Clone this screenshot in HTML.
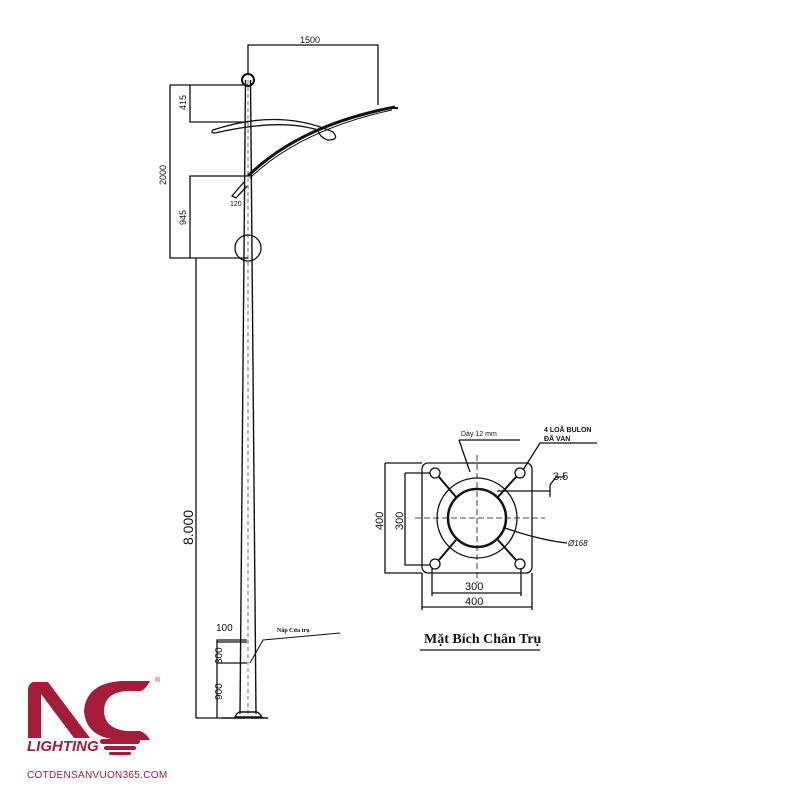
<!DOCTYPE html>
<html><head><meta charset="utf-8"><style>body{margin:0;background:#fff}svg{display:block}</style></head><body>
<svg width="800" height="800" viewBox="0 0 800 800" xmlns="http://www.w3.org/2000/svg" font-family="Liberation Sans, sans-serif">
<rect width="800" height="800" fill="#fff"/>
<g stroke="#111" fill="none" stroke-width="1.3">
<path d="M245.5 80 L240 714 M250.5 80 L256 714" stroke-width="1.4"/>
<path d="M248 80 L248 714" stroke-width="0.6" stroke-dasharray="4 3"/>
<path d="M235 717 Q238 711 241 712 L255 712 Q258 711 262 717 Z" stroke-width="1.4"/>
<line x1="222" y1="718" x2="268" y2="718" stroke-width="1.5"/>
<circle cx="248" cy="80" r="6" stroke-width="2"/>
<circle cx="248" cy="248" r="13"/>
<path d="M248 176 Q300 125 395 107" stroke-width="3"/>
<path d="M250 178 Q300 130 392 110" stroke-width="1"/>
<path d="M388 108 L398 108" stroke-width="2"/>
<path d="M213 130 Q280 108 333 132 Q340 140 328 140 Q320 138 318 130 Q280 118 215 133 Q210 133 213 130 Z"/>
<path d="M244 182 L232 196 L236 198 L247 186" />
<path d="M248 75 L248 45 L378 45 L378 105"/>
<path d="M248 85 L170 85 L170 258 L248 258"/>
<path d="M248 122 L190 122 L190 85"/>
<path d="M248 176 L190 176 L190 258"/>
<path d="M196 258 L196 718 L222 718"/>
<path d="M217 718 L217 640 L247 640"/>
<path d="M217 663 L247 663 M217 642 L247 642"/>
<path d="M250 663 L263 640 L340 633" stroke-width="1"/>
<rect x="422" y="463" width="110" height="110" rx="6"/>
<circle cx="477" cy="518" r="40"/>
<circle cx="477" cy="518" r="29" stroke-width="2.5"/>
<path d="M477 455 L477 583 M415 518 L545 518" stroke-dasharray="6 3" stroke-width="0.8"/>
<circle cx="435" cy="473" r="5"/><circle cx="520" cy="473" r="5"/>
<circle cx="435" cy="564" r="5"/><circle cx="520" cy="564" r="5"/>
<path d="M439 477 L456 497 M516 477 L498 497 M439 560 L456 540 M516 560 L498 540" stroke-width="2"/>
<path d="M385 463 L422 463 M385 463 L385 573 L422 573"/>
<path d="M405 473 L430 473 M405 473 L405 565 L430 565"/>
<path d="M432 568 L432 596 M521 568 L521 596 M432 593 L521 593"/>
<path d="M422 573 L422 610 M532 573 L532 610 M422 607 L532 607"/>
<path d="M459 440 L470 472 M459 440 L520 440"/>
<path d="M523 470 L540 443 L597 443"/>
<path d="M497 491 L550 491 M550 485 L550 497 M550 485 L556 477 L565 477"/>
<path d="M505 528 Q540 540 567 543"/>
<line x1="420" y1="650" x2="540" y2="650" stroke-width="1.2"/>
</g>
<g fill="#111" font-size="9">
<text x="300" y="43">1500</text>
<text transform="translate(186 110) rotate(-90)">415</text>
<text transform="translate(166 185) rotate(-90)">2000</text>
<text transform="translate(186 225) rotate(-90)">945</text>
<text x="230" y="206" font-size="7">120</text>
<text transform="translate(193 545) rotate(-90)" font-size="14">8.000</text>
<text x="216" y="631" font-size="10">100</text>
<text transform="translate(222 664) rotate(-90)" font-size="10">300</text>
<text transform="translate(222 700) rotate(-90)" font-size="10">900</text>
<text x="277" y="632" font-size="6" font-family="Liberation Serif, serif" font-weight="bold">Nắp Cửa trụ</text>
<text x="461" y="436" font-size="7">Dày 12 mm</text>
<text x="544" y="432" font-size="7" font-weight="bold">4 LOÃ BULON</text>
<text x="544" y="441" font-size="7" font-weight="bold">ĐÃ VAN</text>
<text x="553" y="480" font-size="11">3.5</text>
<text x="568" y="546" font-size="8" font-style="italic">Ø168</text>
<text transform="translate(383 530) rotate(-90)" font-size="11">400</text>
<text transform="translate(403 530) rotate(-90)" font-size="11">300</text>
<text x="465" y="590" font-size="11">300</text>
<text x="465" y="605" font-size="11">400</text>
<text x="424" y="643" font-size="14" font-weight="bold" font-family="Liberation Serif, serif">Mặt Bích Chân Trụ</text>
</g>
<g fill="#a31c3a">
<path d="M28 738 L28 690 Q28 682 36 682 L41 682 L41 738 Z"/>
<path d="M32 682 L48 682 L90 738 L74 738 Z"/>
<path fill-rule="evenodd" d="M150 681 L122 681 Q86 683 84 711 Q86 739 122 740 L150 740 Q146 733 140 731 L126 731 Q104 728 104 711 Q104 693 126 691 L141 691 Q146 689 150 681 Z"/>
<rect x="100" y="739" width="40" height="5" rx="2.5"/>
<rect x="104" y="746" width="32" height="4" rx="2"/>
<rect x="109" y="752" width="22" height="3" rx="1.5"/>
<text x="27" y="751" font-size="15" font-style="italic" font-weight="bold" font-family="Liberation Sans, sans-serif">LIGHTING</text>
<text x="27" y="778" font-size="10" letter-spacing="0.3">COTDENSANVUON365.COM</text>
<text x="155" y="682" font-size="7">®</text>
</g>
</svg>
</body></html>
